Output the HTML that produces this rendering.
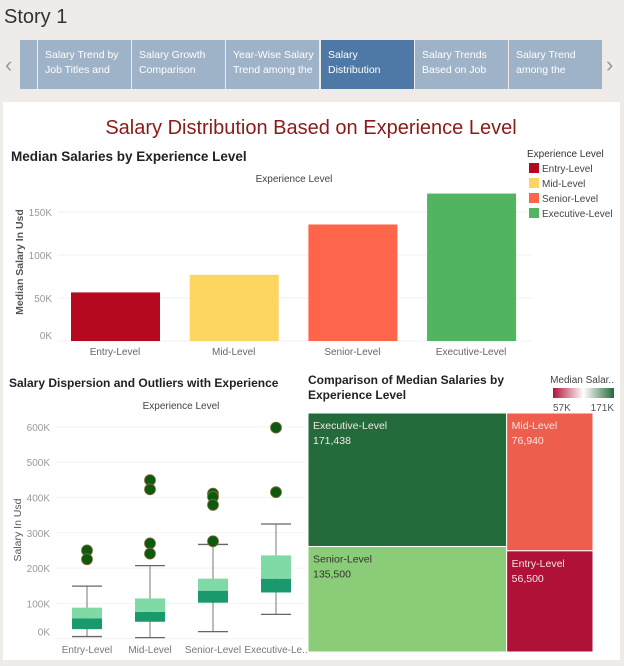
<!DOCTYPE html>
<html><head><meta charset="utf-8">
<style>
body{margin:0;width:624px;height:666px;background:#eeebe8;font-family:"Liberation Sans",sans-serif;overflow:hidden;position:relative}
.tab{position:absolute;top:40px;height:49px;background:#9fb3c8;color:#fff;font-size:10.5px;line-height:15px;padding:8px 0 0 7px;box-sizing:border-box;overflow:hidden}
</style></head><body>
<div style="position:absolute;left:4px;top:6px;font-size:20px;color:#333">Story 1</div>
<div style="position:absolute;left:5px;top:52px;font-size:22px;color:#999">‹</div>
<div style="position:absolute;left:606px;top:52px;font-size:22px;color:#999">›</div>
<div class="tab" style="left:20px;width:17px"></div>
<div class="tab" style="left:38px;width:93px">Salary Trend by<br>Job Titles and</div>
<div class="tab" style="left:132px;width:93px">Salary Growth<br>Comparison</div>
<div class="tab" style="left:226px;width:93px">Year-Wise Salary<br>Trend among the</div>
<div class="tab" style="left:321px;width:93px;background:#4e79a7">Salary<br>Distribution</div>
<div class="tab" style="left:415px;width:93px">Salary Trends<br>Based on Job</div>
<div class="tab" style="left:509px;width:93px">Salary Trend<br>among the</div>
<div style="position:absolute;left:3px;top:102px;width:617px;height:558px;background:#fff"></div>
<svg id="s" width="624" height="666" style="position:absolute;left:0;top:0" font-family="Liberation Sans, sans-serif">
<text x="311" y="134" text-anchor="middle" font-size="20" fill="#8b1a1a">Salary Distribution Based on Experience Level</text>
<text x="11" y="161" font-size="13.5" font-weight="bold" fill="#222">Median Salaries by Experience Level</text>
<text x="294" y="182" text-anchor="middle" font-size="10" fill="#444">Experience Level</text>
<text transform="translate(23,262) rotate(-90)" text-anchor="middle" font-size="10.5" font-weight="bold" fill="#555">Median Salary In Usd</text>
<text x="527" y="157" font-size="10" fill="#333">Experience Level</text>
<text x="9" y="387" font-size="12" font-weight="bold" fill="#222">Salary Dispersion and Outliers with Experience</text>
<text x="181" y="409" text-anchor="middle" font-size="10" fill="#444">Experience Level</text>
<text transform="translate(21,530) rotate(-90)" text-anchor="middle" font-size="10.5" fill="#555">Salary In Usd</text>
<text x="308" y="384" font-size="12" font-weight="bold" fill="#222">Comparison of Median Salaries by</text>
<text x="308" y="399" font-size="12" font-weight="bold" fill="#222">Experience Level</text>
<text x="614" y="383" text-anchor="end" font-size="10" fill="#444">Median Salar..</text>
<defs><linearGradient id="g"><stop offset="0" stop-color="#b01237"/><stop offset="0.5" stop-color="#fff"/><stop offset="1" stop-color="#236b3a"/></linearGradient></defs>
<rect x="553" y="388" width="61" height="10" fill="url(#g)"/>
<text x="553" y="411" font-size="10" fill="#555">57K</text>
<text x="614" y="411" text-anchor="end" font-size="10" fill="#555">171K</text>
<g id="bars"></g><g id="box"></g><g id="tree"></g>
</svg>
<script>
const categories=["Entry-Level","Mid-Level","Senior-Level","Executive-Level"];
const medians=[56.5,76.94,135.5,171.438];
const barTicks=[0,50,100,150];
const boxLow=[6,3,20,69];
const boxQ1=[27,48,102,131];
const boxMed=[58,76,136,170];
const boxQ3=[88,114,170,236];
const boxHigh=[149,207,267,325];
const outliers=[[250,225],[449,423,270,241],[411,402,379,276],[598,415]];
const boxTicks=[0,100,200,300,400,500,600];
const treeValues=[56500,76940,135500,171438];
const colors=["#b5091f","#fdd662","#fe654a","#52b360"];
const treeColors=["#b01237","#ed5e4c","#8acc78","#236b3a"];
const NS="http://www.w3.org/2000/svg";
function mk(p,tag,at,txt){const e=document.createElementNS(NS,tag);for(const k in at)e.setAttribute(k,at[k]);if(txt!==undefined)e.textContent=txt;p.appendChild(e);return e;}
// bar chart
const bg=document.getElementById('bars');
const by=v=>341-v*0.86, bx=i=>62+i*118.7;
barTicks.forEach(t=>{
 const l=mk(bg,'line',{x1:58,x2:532,y1:by(t),y2:by(t),stroke:'#f0f0f0'});
 
 
 const tx=mk(bg,'text',{x:52,y:by(t)+4-(t===0?6:0),'text-anchor':'end','font-size':10,fill:'#999'},t+'K');
 
 
});
categories.forEach((c,i)=>{
 const r=mk(bg,'rect',{x:bx(i)+9,y:by(medians[i]),width:89,height:by(0)-by(medians[i]),fill:colors[i]});
 
 
 const t=mk(bg,'text',{x:bx(i)+53,y:355,'text-anchor':'middle','font-size':10,fill:'#666'},c);
 
 
 const s=mk(bg,'rect',{x:529,y:163+i*15,width:10,height:10,fill:colors[i]});
 
 
 const lt=mk(bg,'text',{x:542,y:172+i*15,'font-size':10,fill:'#444'},c);
 
 
});
// box plot
const xg=document.getElementById('box');
const yy=v=>638.7-v*0.353, xx=i=>87+i*63;
boxTicks.forEach(t=>{
 const l=mk(xg,'line',{x1:56,x2:305,y1:yy(t),y2:yy(t),stroke:'#f2f2f2'});
 
 
 const tx=mk(xg,'text',{x:50,y:yy(t)+4-(t===0?7:0),'text-anchor':'end','font-size':10,fill:'#999'},t+'K');
 
 
});
categories.forEach((c,i)=>{
 const x=xx(i);
 const w=mk(xg,'line',{x1:x,x2:x,y1:yy(boxHigh[i]),y2:yy(boxLow[i]),stroke:'#777'});
 
 
 [boxHigh[i],boxLow[i]].forEach(v=>{const cap=mk(xg,'line',{x1:x-15,x2:x+15,y1:yy(v),y2:yy(v),stroke:'#666','stroke-width':1.3});
  
  });
 const lo=mk(xg,'rect',{x:x-15,y:yy(boxMed[i]),width:30,height:yy(boxQ1[i])-yy(boxMed[i]),fill:'#1a9a6c'});
 
 
 const hi=mk(xg,'rect',{x:x-15,y:yy(boxQ3[i]),width:30,height:yy(boxMed[i])-yy(boxQ3[i]),fill:'#7fdaa5'});
 
 
 outliers[i].forEach(v=>{const d=mk(xg,'circle',{cx:x,cy:yy(v),r:5.5,fill:'#0b5a10',stroke:'#8a6a3a','stroke-width':0.8});
  
  });
 const t=mk(xg,'text',{x:x,y:653,'text-anchor':'middle','font-size':10,fill:'#777'},i===3?'Executive-Le..':c);
 
 
});
// treemap
const tg=document.getElementById('tree');
const X0=308,Y0=413,W=285,H=239;
const total=treeValues.reduce((a,b)=>a+b,0);
const leftSum=treeValues[2]+treeValues[3], rightSum=treeValues[0]+treeValues[1];
const lw=W*leftSum/total;
const cells=[
 {i:3,x:X0,y:Y0,w:lw,h:H*treeValues[3]/leftSum},
 {i:2,x:X0,y:Y0+H*treeValues[3]/leftSum,w:lw,h:H*treeValues[2]/leftSum},
 {i:1,x:X0+lw,y:Y0,w:W-lw,h:H*treeValues[1]/rightSum},
 {i:0,x:X0+lw,y:Y0+H*treeValues[1]/rightSum,w:W-lw,h:H*treeValues[0]/rightSum}];
cells.forEach(c=>{
 const r=mk(tg,'rect',{x:c.x,y:c.y,width:c.w,height:c.h,fill:treeColors[c.i],stroke:'#fff','stroke-width':1});
 
 
 const fc=c.i===2?'#333':'#f4e8e8';
 const a=mk(tg,'text',{x:c.x+5,y:c.y+16,'font-size':10.5,fill:fc},categories[c.i]);
 
 
 const b=mk(tg,'text',{x:c.x+5,y:c.y+31,'font-size':10.5,fill:fc},treeValues[c.i].toLocaleString('en-US'));
 
 
});
</script>
</body></html>
